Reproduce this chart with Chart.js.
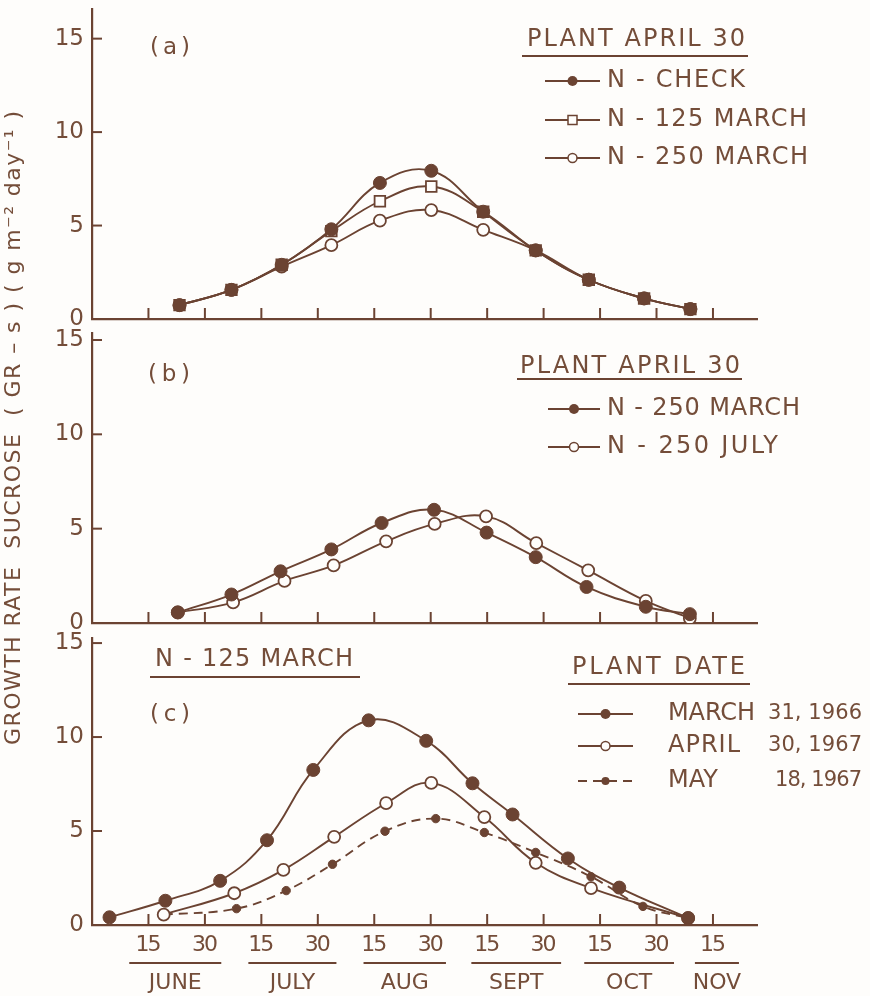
<!DOCTYPE html>
<html>
<head>
<meta charset="utf-8">
<script src="https://cdn.jsdelivr.net/npm/chart.js@4.4.1/dist/chart.umd.min.js"></script>
<style>
  html, body { margin: 0; padding: 0; background: #fefdfb; }
  #wrap { position: relative; width: 870px; height: 996px; }
  canvas { position: absolute; left: 0; top: 0; }
</style>
</head>
<body>
<div id="wrap">
  <canvas id="ca" width="870" height="996"></canvas>
  <canvas id="cb" width="870" height="996"></canvas>
  <canvas id="cc" width="870" height="996"></canvas>
</div>
<script>
// ---------------- DATA ----------------
// x positions are in half-month units: 1 = June 15, 2 = June 30, 3 = July 15 ... 11 = Nov 15
const xTickValues = [1, 2, 3, 4, 5, 6, 7, 8, 9, 10, 11];
const xTickLabels = ['15', '30', '15', '30', '15', '30', '15', '30', '15', '30', '15'];
const monthLabels = ['JUNE', 'JULY', 'AUG', 'SEPT', 'OCT', 'NOV'];
const monthSpans  = [[0.66, 2.29], [2.77, 4.33], [4.81, 6.27], [6.72, 8.31], [8.72, 10.31], [10.68, 11.46]];
const yTickValues = [0, 5, 10, 15];

// Panel (a) PLANT APRIL 30
const aX       = [1.55, 2.47, 3.36, 4.24, 5.10, 6.01, 6.93, 7.86, 8.80, 9.78, 10.60];
const aCheck   = [0.74, 1.56, 2.90, 4.80, 7.28, 7.93, 5.74, 3.67, 2.10, 1.10, 0.53];
const a125Mar  = [0.74, 1.56, 2.90, 4.70, 6.30, 7.09, 5.74, 3.67, 2.10, 1.10, 0.53];
const a250Mar  = [0.74, 1.56, 2.80, 3.95, 5.26, 5.83, 4.77, 3.67, 2.10, 1.10, 0.53];

// Panel (b) PLANT APRIL 30
const bMarX    = [1.52, 2.47, 3.34, 4.24, 5.13, 6.06, 6.99, 7.86, 8.76, 9.81, 10.59];
const b250Mar  = [0.56, 1.51, 2.74, 3.90, 5.30, 6.00, 4.79, 3.49, 1.91, 0.86, 0.47];
const bJulX    = [1.52, 2.50, 3.41, 4.28, 5.21, 6.07, 6.98, 7.87, 8.79, 9.81, 10.59];
const b250Jul  = [0.56, 1.09, 2.23, 3.05, 4.33, 5.25, 5.65, 4.23, 2.79, 1.17, 0.25];

// Panel (c) N-125 MARCH, plant dates
const cMar66X  = [0.31, 1.30, 2.27, 3.10, 3.92, 4.90, 5.92, 6.74, 7.45, 8.43, 9.34, 10.56];
const cMar66   = [0.41, 1.29, 2.35, 4.51, 8.25, 10.89, 9.80, 7.54, 5.88, 3.54, 1.99, 0.37];
const cApr67X  = [1.27, 2.52, 3.39, 4.29, 5.21, 6.01, 6.95, 7.86, 8.84, 10.56];
const cApr67   = [0.55, 1.69, 2.93, 4.69, 6.48, 7.56, 5.74, 3.31, 1.96, 0.37];
const cMay67X  = [1.27, 2.56, 3.44, 4.26, 5.19, 6.09, 6.95, 7.86, 8.84, 9.76, 10.56];
const cMay67   = [0.55, 0.87, 1.83, 3.23, 4.99, 5.66, 4.92, 3.86, 2.57, 0.99, 0.37];

// ---------------- STYLE ----------------
const INK = '#6b4332';
const TXT = '#744d39';
const PAPER = '#fefdfb';
const FONT = '"DejaVu Sans", "Liberation Sans", sans-serif';

function pts(xs, ys) { return xs.map((x, i) => ({ x: x, y: ys[i] })); }

function filled(label, data, r) {
  return { label, data, borderColor: INK, backgroundColor: INK, borderWidth: 1.9,
    pointRadius: r || 6.5, pointBackgroundColor: INK, pointBorderColor: INK, pointBorderWidth: 1,
    tension: 0.4, fill: false };
}
function openC(label, data) {
  return { label, data, borderColor: INK, backgroundColor: PAPER, borderWidth: 1.9,
    pointRadius: 6, pointBackgroundColor: PAPER, pointBorderColor: INK, pointBorderWidth: 1.8,
    tension: 0.4, fill: false };
}
function openS(label, data) {
  return { label, data, borderColor: INK, backgroundColor: PAPER, borderWidth: 1.9, pointStyle: 'rect',
    pointRadius: 7.5, pointBackgroundColor: PAPER, pointBorderColor: INK, pointBorderWidth: 1.8,
    tension: 0.4, fill: false };
}

function fitText(ctx, s, x, y, size, w, align) {
  ctx.save();
  ctx.font = size + 'px ' + FONT;
  ctx.fillStyle = TXT;
  ctx.letterSpacing = '0px';
  let ls = 0;
  if (w && s.length > 1) {
    const m = ctx.measureText(s).width;
    ls = (w - m) / (s.length - 1);
  }
  ctx.letterSpacing = ls + 'px';
  ctx.textBaseline = 'middle';
  ctx.textAlign = 'left';
  let xx = x;
  if (align === 'center') xx = x - (w || ctx.measureText(s).width) / 2;
  ctx.fillText(s, xx, y);
  ctx.restore();
}
function hline(ctx, x1, x2, y, lw) {
  ctx.save(); ctx.strokeStyle = INK; ctx.lineWidth = lw || 2;
  ctx.beginPath(); ctx.moveTo(x1, y); ctx.lineTo(x2, y); ctx.stroke(); ctx.restore();
}
function legendMark(ctx, x1, x2, y, kind, dashed) {
  ctx.save();
  ctx.strokeStyle = INK; ctx.lineWidth = 1.9;
  if (dashed) ctx.setLineDash([9, 6]);
  ctx.beginPath(); ctx.moveTo(x1, y); ctx.lineTo(x2, y); ctx.stroke();
  ctx.setLineDash([]);
  const cx = (x1 + x2) / 2;
  ctx.lineWidth = 1.5;
  ctx.beginPath();
  if (kind === 'filled') { ctx.arc(cx, y, 5, 0, Math.PI * 2); ctx.fillStyle = INK; ctx.fill(); }
  else if (kind === 'small') { ctx.arc(cx, y, 4, 0, Math.PI * 2); ctx.fillStyle = INK; ctx.fill(); }
  else if (kind === 'open') { ctx.arc(cx, y, 4.5, 0, Math.PI * 2); ctx.fillStyle = PAPER; ctx.fill(); ctx.stroke(); }
  else if (kind === 'square') { ctx.rect(cx - 4.5, y - 4.5, 9, 9); ctx.fillStyle = PAPER; ctx.fill(); ctx.stroke(); }
  ctx.restore();
}

const extras = {};

const innerTicks = {
  id: 'innerTicks',
  afterDatasetsDraw(chart) {
    const ctx = chart.ctx, xs = chart.scales.x, ys = chart.scales.y, a = chart.chartArea;
    ctx.save(); ctx.strokeStyle = INK; ctx.lineWidth = 2;
    xTickValues.forEach(v => {
      const px = xs.getPixelForValue(v);
      ctx.beginPath(); ctx.moveTo(px, a.bottom); ctx.lineTo(px, a.bottom - 11); ctx.stroke();
    });
    yTickValues.forEach(v => {
      if (v === 0) return;
      const py = ys.getPixelForValue(v);
      ctx.beginPath(); ctx.moveTo(a.left, py); ctx.lineTo(a.left + 10, py); ctx.stroke();
    });
    ctx.restore();
    const f = extras[chart.canvas.id];
    if (f) f(ctx, chart);
  }
};

function makePanel(id, series, top, bottom, ymax, drawExtras) {
  extras[id] = drawExtras;
  return new Chart(document.getElementById(id), {
    type: 'line',
    data: { datasets: series },
    plugins: [innerTicks],
    options: {
      responsive: false, animation: false, devicePixelRatio: 1,
      layout: { padding: { left: 0, right: 870 - 757, top: top, bottom: 996 - bottom } },
      plugins: { legend: { display: false }, tooltip: { enabled: false } },
      scales: {
        x: { type: 'linear', min: 0, max: 11.78,
          grid: { display: false }, border: { display: true, color: INK, width: 2.2 },
          ticks: { display: false },
          afterFit(s) { s.height = 0; s.paddingLeft = 0; s.paddingRight = 0; } },
        y: { type: 'linear', min: 0, max: ymax,
          afterBuildTicks(s) { s.ticks = yTickValues.map(v => ({ value: v })); },
          grid: { display: false, drawTicks: false }, border: { display: true, color: INK, width: 2.2 },
          ticks: { color: TXT, font: { family: FONT, size: 23 }, padding: 8 },
          afterFit(s) { s.width = 92; s.paddingTop = 0; s.paddingBottom = 0; } }
      }
    }
  });
}

// Panel (a)
makePanel('ca', [
  filled('N - CHECK', pts(aX, aCheck)),
  openS('N - 125 MARCH', pts(aX, a125Mar)),
  openC('N - 250 MARCH', pts(aX, a250Mar))
], 3, 319, 16.57, (ctx) => {
  fitText(ctx, '(a)', 150, 48, 23, 40);
  fitText(ctx, 'PLANT APRIL 30', 527, 40, 24, 218);
  hline(ctx, 522, 748, 56, 2);
  legendMark(ctx, 545, 600, 81, 'filled');
  fitText(ctx, 'N - CHECK', 607, 81, 24, 138);
  legendMark(ctx, 545, 600, 120, 'square');
  fitText(ctx, 'N - 125 MARCH', 607, 120, 24, 200);
  legendMark(ctx, 545, 600, 158, 'open');
  fitText(ctx, 'N - 250 MARCH', 607, 158, 24, 201);
  // y-axis title
  ctx.save();
  ctx.translate(14, 428); ctx.rotate(-Math.PI / 2);
  fitText(ctx, 'GROWTH RATE  SUCROSE  ( GR – s ) ( g m⁻² day⁻¹ )', -317, 0, 22, 634);
  ctx.restore();
});

// Panel (b)
makePanel('cb', [
  filled('N - 250 MARCH', pts(bMarX, b250Mar)),
  openC('N - 250 JULY', pts(bJulX, b250Jul))
], 333, 623, 15.37, (ctx) => {
  fitText(ctx, '(b)', 148, 375, 23, 42);
  fitText(ctx, 'PLANT APRIL 30', 520, 367, 24, 220);
  hline(ctx, 517, 742, 379, 2);
  legendMark(ctx, 548, 600, 409, 'filled');
  fitText(ctx, 'N - 250 MARCH', 607, 409, 24, 193);
  legendMark(ctx, 548, 600, 447, 'open');
  fitText(ctx, 'N - 250 JULY', 607, 447, 24, 171);
});

// Panel (c)
const mayDs = filled('MAY 18, 1967', pts(cMay67X, cMay67), 4.2);
mayDs.borderDash = [9, 6];
makePanel('cc', [
  filled('MARCH 31, 1966', pts(cMar66X, cMar66)),
  openC('APRIL 30, 1967', pts(cApr67X, cApr67)),
  mayDs
], 638, 925, 15.27, (ctx, chart) => {
  fitText(ctx, 'N - 125 MARCH', 155, 660, 24, 198);
  hline(ctx, 150, 360, 677, 2);
  fitText(ctx, '(c)', 150, 715, 23, 40);
  fitText(ctx, 'PLANT DATE', 572, 668, 24, 173);
  hline(ctx, 568, 750, 684, 2);
  legendMark(ctx, 578, 633, 714, 'filled');
  fitText(ctx, 'MARCH', 668, 714, 24, 87);
  fitText(ctx, '31, 1966', 768, 714, 21, 94);
  legendMark(ctx, 578, 633, 746, 'open');
  fitText(ctx, 'APRIL', 668, 746, 24, 72);
  fitText(ctx, '30, 1967', 768, 746, 21, 94);
  legendMark(ctx, 578, 633, 781, 'small', true);
  fitText(ctx, 'MAY', 668, 781, 24, 50);
  fitText(ctx, '18, 1967', 775, 781, 21, 87);
  // x labels
  const xs = chart.scales.x;
  xTickValues.forEach((v, i) => {
    const px = xs.getPixelForValue(v);
    fitText(ctx, xTickLabels[i], px, 945, 22, 26, 'center');
  });
  monthLabels.forEach((m, i) => {
    const x1 = xs.getPixelForValue(monthSpans[i][0]);
    const x2 = xs.getPixelForValue(monthSpans[i][1]);
    hline(ctx, x1, x2, 963, 2);
    fitText(ctx, m, (x1 + x2) / 2, 983, 22, null, 'center');
  });
});
</script>
</body>
</html>
